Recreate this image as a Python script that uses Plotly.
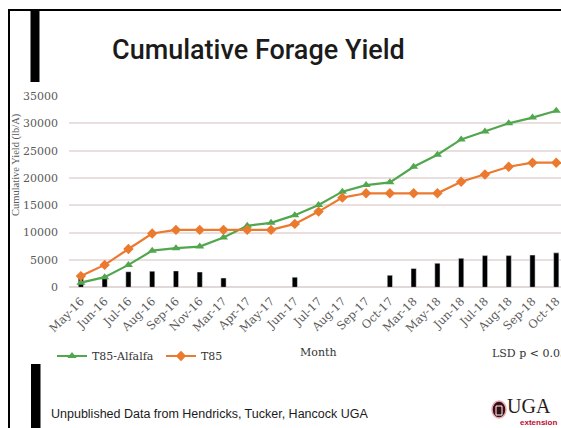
import plotly.graph_objects as go

W, H = 561, 428

months = ["May-16", "Jun-16", "Jul-16", "Aug-16", "Sep-16", "Nov-16", "Mar-17",
          "Apr-17", "May-17", "Jun-17", "Jul-17", "Aug-17", "Sep-17", "Oct-17",
          "Mar-18", "May-18", "Jun-18", "Jul-18", "Aug-18", "Sep-18", "Oct-18"]
t85_alfalfa = [850, 1850, 4100, 6700, 7150, 7450, 9100, 11250, 11800, 13200,
               15050, 17500, 18700, 19200, 22050, 24250, 27050, 28500, 30000,
               31050, 32300]
t85 = [2050, 4100, 7000, 9850, 10500, 10500, 10500, 10500, 10500, 11600,
       13850, 16400, 17200, 17200, 17200, 17200, 19300, 20650, 22050, 22800,
       22800]
lsd = [1750, 1850, 2850, 2950, 3000, 2800, 1700, None, None, 1850, None, None,
       None, 2200, 3450, 4400, 5300, 5800, 5800, 5900, 6300]
y_ticks = [0, 5000, 10000, 15000, 20000, 25000, 30000, 35000]

GREEN = "#52A74E"
ORANGE = "#EB7A2F"
SERIF = "DejaVu Serif"
GREY = "#5a5a5a"


def px(x):
    return x / W


def py(y):
    return 1 - y / H


fig = go.Figure()
fig.add_trace(go.Bar(x=months, y=lsd, width=0.22, marker_color="black",
                     showlegend=False, hoverinfo="skip"))
fig.add_trace(go.Scatter(x=months, y=t85_alfalfa, name="T85-Alfalfa",
                         mode="lines+markers",
                         line=dict(color=GREEN, width=2.2),
                         marker=dict(symbol="triangle-up", size=8, color=GREEN)))
fig.add_trace(go.Scatter(x=months, y=t85, name="T85",
                         mode="lines+markers",
                         line=dict(color=ORANGE, width=2.2),
                         marker=dict(symbol="diamond", size=8, color=ORANGE)))

fig.update_layout(
    width=W, height=H,
    margin=dict(l=0, r=0, t=0, b=0),
    paper_bgcolor="white", plot_bgcolor="white",
    showlegend=True,
    legend=dict(orientation="h", x=px(52), y=py(356), xanchor="left",
                yanchor="middle", font=dict(family=SERIF, size=11, color="#333"),
                itemwidth=30, entrywidth=64, entrywidthmode="pixels",
                bgcolor="rgba(0,0,0,0)"),
    xaxis=dict(domain=[px(69), 1], range=[-0.5, 20.2], type="category",
               tickangle=-45, tickfont=dict(family=SERIF, size=11.5, color=GREY),
               showgrid=False, showline=False, ticks="", automargin=False,
               ticklabelstandoff=4),
    yaxis=dict(domain=[py(287.3), py(96)], range=[0, 35000],
               tickvals=y_ticks, tickformat="d",
               tickfont=dict(family=SERIF, size=11, color=GREY),
               showgrid=True, gridcolor="#EADFDF", gridwidth=1.5,
               zeroline=True, zerolinecolor="#E2D8D8", zerolinewidth=1.5,
               showline=False, ticks="", automargin=False, ticklabelstandoff=10),
    bargap=0.78,
)

ann = [
    dict(text="Cumulative Forage Yield", x=px(258), y=py(50),
         font=dict(family="Roboto", size=27, weight=500, color="#1b1b1b")),
    dict(text="Cumulative Yield (lb/A)", x=px(16), y=py(165), textangle=-90,
         font=dict(family="Liberation Serif", size=10.5, color=GREY)),
    dict(text="Month", x=px(318), y=py(352),
         font=dict(family=SERIF, size=11, color="#333")),
    dict(text="LSD p < 0.05", x=px(490), y=py(353), xanchor="left",
         font=dict(family=SERIF, size=11, color="#333")),
    dict(text="Unpublished Data from Hendricks, Tucker, Hancock UGA",
         x=px(49), y=py(414), xanchor="left",
         font=dict(family="Liberation Sans", size=12.5, color="#1b1b1b")),
    dict(text="UGA", x=px(505), y=py(406), xanchor="left",
         font=dict(family="Liberation Serif", size=20, color="#2a1a1a")),
    dict(text="<b>extension</b>", x=px(518), y=py(422), xanchor="left",
         font=dict(family="Liberation Sans", size=8, color="#BA0C2F")),
]
for a in ann:
    a.setdefault("xanchor", "center")
    fig.add_annotation(xref="paper", yref="paper", showarrow=False,
                       yanchor="middle", **a)

shapes = [
    # slide frame
    dict(type="line", x0=px(9), x1=px(9), y0=py(9), y1=0,
         line=dict(color="black", width=2)),
    dict(type="line", x0=px(9), x1=1, y0=py(10), y1=py(10),
         line=dict(color="black", width=2)),
    # thick accent bars
    dict(type="rect", x0=px(30.5), x1=px(39.5), y0=py(10), y1=py(82),
         fillcolor="black", line=dict(width=0)),
    dict(type="rect", x0=px(31), x1=px(40.5), y0=py(364), y1=0,
         fillcolor="black", line=dict(width=0)),
    # logo circle
    dict(type="circle", x0=px(492), x1=px(506), y0=py(401), y1=py(418),
         fillcolor="#3a0d12", line=dict(color="#e7a8b4", width=1.5)),
    dict(type="rect", x0=px(496), x1=px(502), y0=py(406), y1=py(415),
         fillcolor="rgba(0,0,0,0)", line=dict(color="white", width=1)),
]
for s in shapes:
    fig.add_shape(xref="paper", yref="paper", **s)

fig.write_html("out.html")
